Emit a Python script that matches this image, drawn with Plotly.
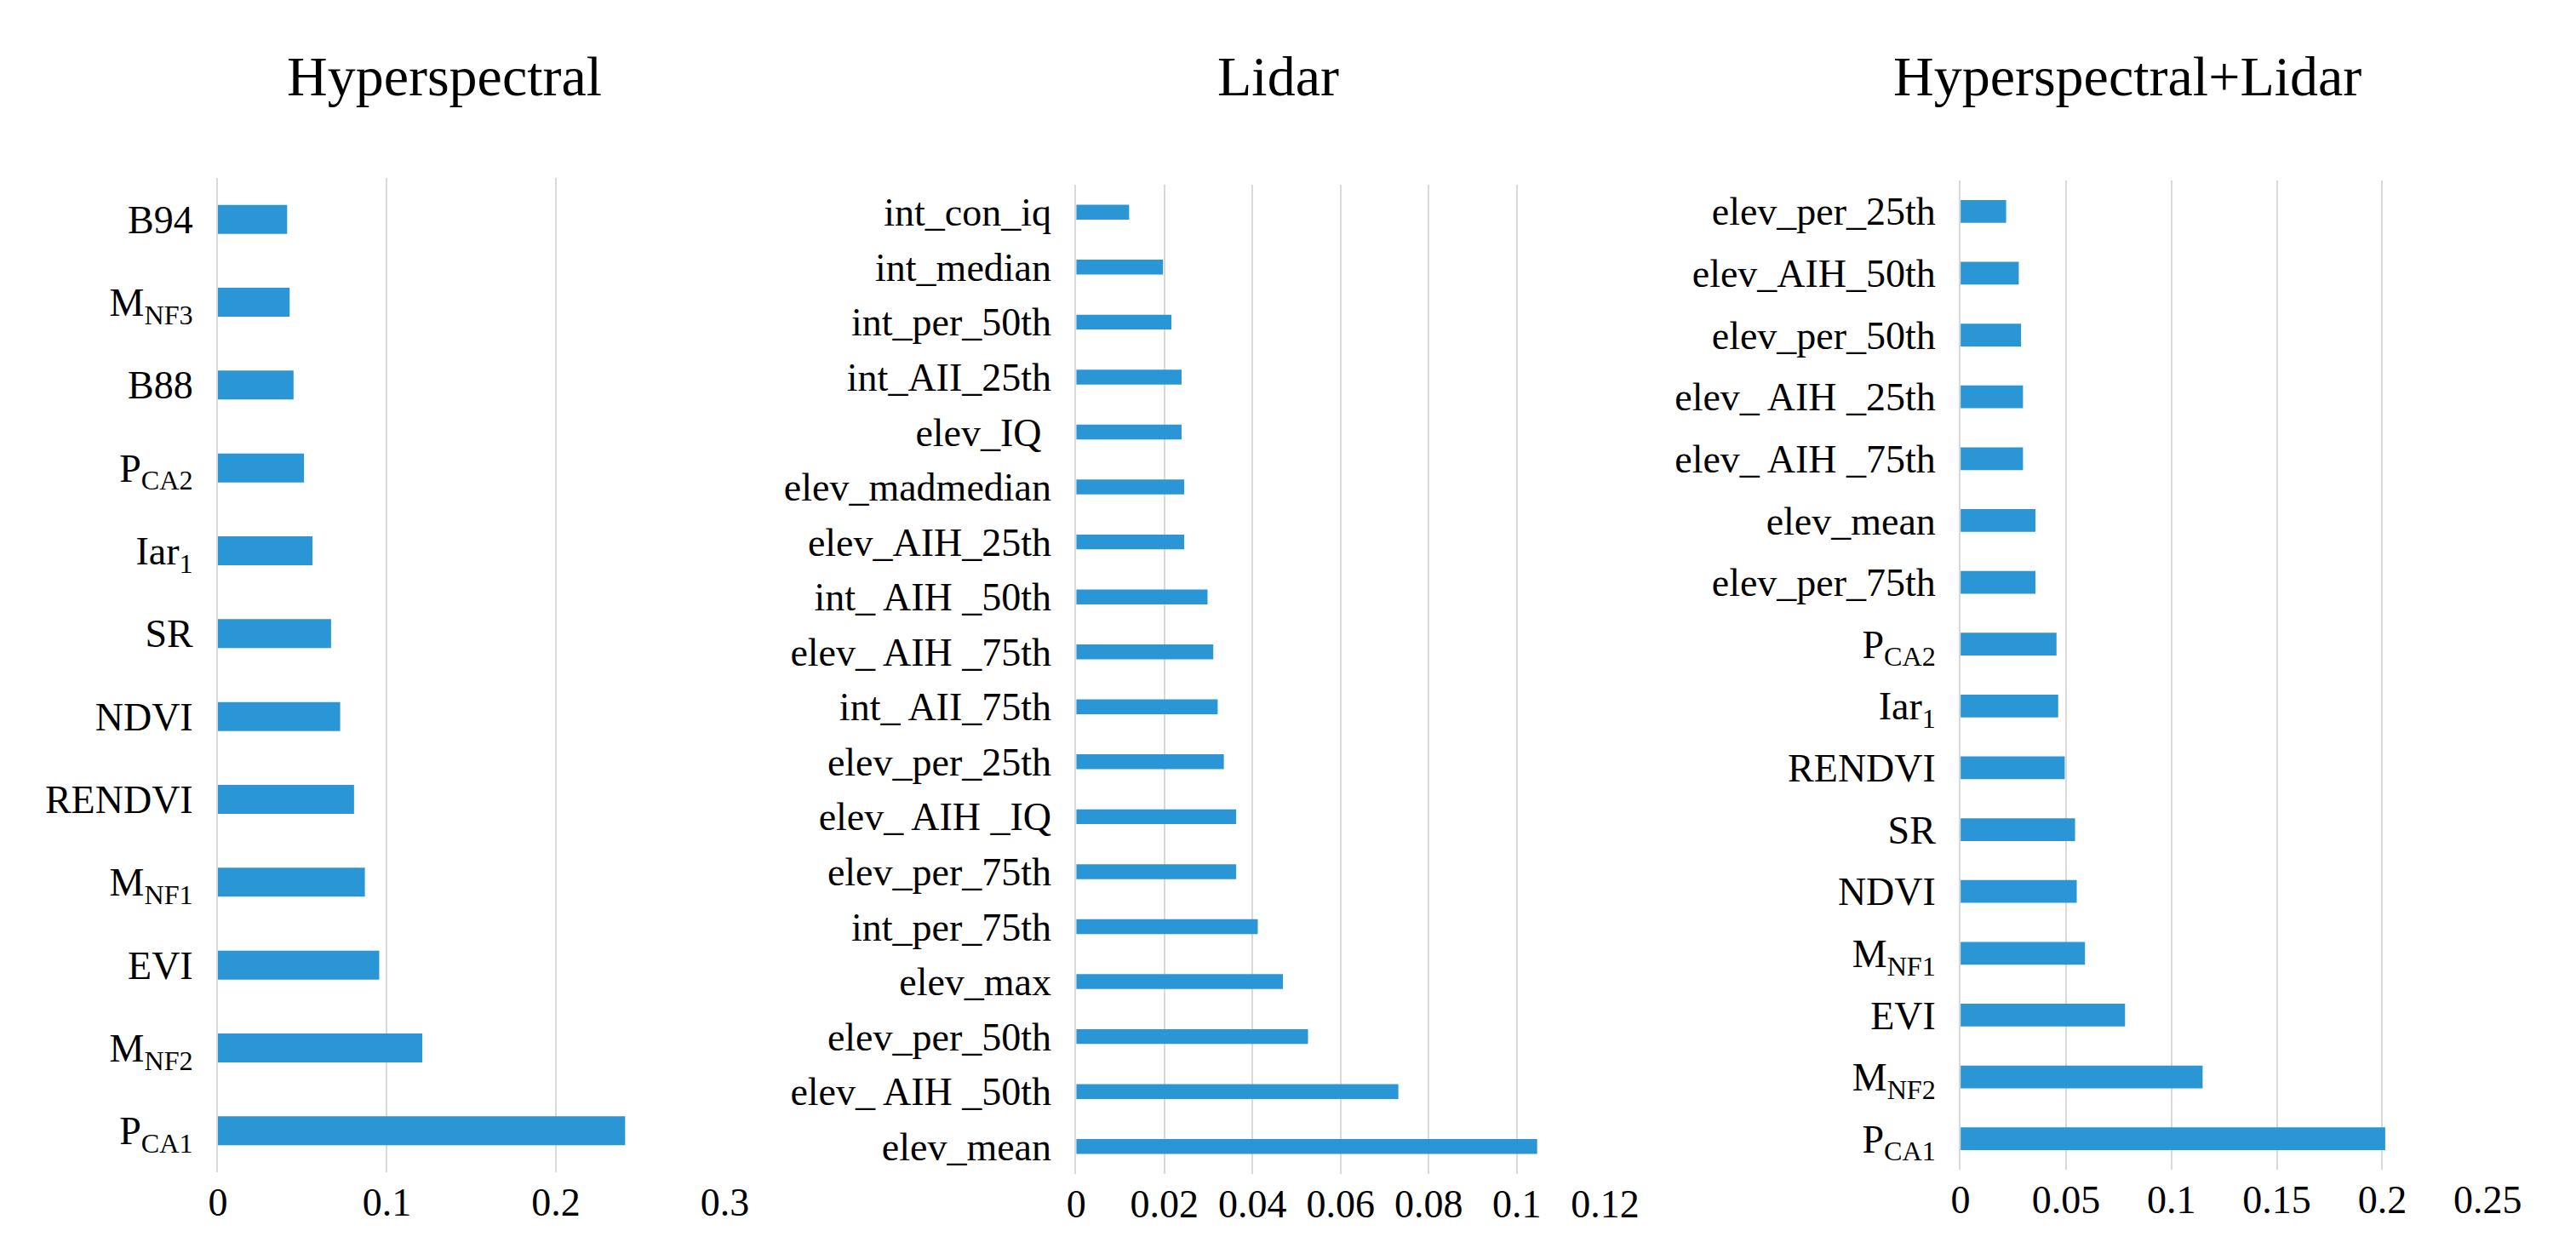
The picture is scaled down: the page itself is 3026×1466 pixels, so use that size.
import plotly.graph_objects as go

# ---------------- data (bottom -> top) ----------------
hyper_labels = ["P<sub>CA1</sub>", "M<sub>NF2</sub>", "EVI", "M<sub>NF1</sub>", "RENDVI",
                "NDVI", "SR", "Iar<sub>1</sub>", "P<sub>CA2</sub>", "B88",
                "M<sub>NF3</sub>", "B94"]
hyper_values = [0.241, 0.121, 0.0955, 0.087, 0.0806,
                0.0724, 0.067, 0.056, 0.051, 0.0448,
                0.0425, 0.041]

lidar_labels = ["elev_mean", "elev_ AIH _50th", "elev_per_50th", "elev_max", "int_per_75th",
                "elev_per_75th", "elev_ AIH _IQ", "elev_per_25th", "int_ AII_75th",
                "elev_ AIH _75th", "int_ AIH _50th", "elev_AIH_25th", "elev_madmedian",
                "elev_IQ ", "int_AII_25th", "int_per_50th", "int_median", "int_con_iq"]
lidar_values = [0.1046, 0.0731, 0.0526, 0.0469, 0.0412,
                0.0363, 0.0363, 0.0335, 0.0321,
                0.0311, 0.0298, 0.0245, 0.0245,
                0.0239, 0.0239, 0.0216, 0.0197, 0.012]

both_labels = ["P<sub>CA1</sub>", "M<sub>NF2</sub>", "EVI", "M<sub>NF1</sub>", "NDVI",
               "SR", "RENDVI", "Iar<sub>1</sub>", "P<sub>CA2</sub>", "elev_per_75th",
               "elev_mean", "elev_ AIH _75th", "elev_ AIH _25th", "elev_per_50th",
               "elev_AIH_50th", "elev_per_25th"]
both_values = [0.2014, 0.1148, 0.078, 0.059, 0.0551,
               0.0543, 0.0494, 0.0463, 0.0455, 0.0355,
               0.0355, 0.0296, 0.0296, 0.0287,
               0.0276, 0.0216]

titles = ["Hyperspectral", "Lidar", "Hyperspectral+Lidar"]
x_ticks = [[0, 0.1, 0.2, 0.3],
           [0, 0.02, 0.04, 0.06, 0.08, 0.1, 0.12],
           [0, 0.05, 0.1, 0.15, 0.2, 0.25]]
x_ticktext = [["0", "0.1", "0.2", "0.3"],
              ["0", "0.02", "0.04", "0.06", "0.08", "0.1", "0.12"],
              ["0", "0.05", "0.1", "0.15", "0.2", "0.25"]]

# ---------------- layout helpers ----------------
W, H = 3026, 1466
BAR = "#2A96D6"
GRID = "#D9D9D9"
FONT = "Liberation Serif"

panels = [
    dict(labels=hyper_labels, values=hyper_values, x0=240, x1=846, top=201, bottom=1369, w=0.35),
    dict(labels=lidar_labels, values=lidar_values, x0=1266, x1=1898, top=209, bottom=1371, w=0.27),
    dict(labels=both_labels, values=both_values, x0=2323, x1=2953, top=204, bottom=1366, w=0.37),
]
title_x = [511, 1507, 2522]

fig = go.Figure()
layout = dict(width=W, height=H, margin=dict(l=0, r=0, t=0, b=0),
              paper_bgcolor="white", plot_bgcolor="white", showlegend=False,
              font=dict(family=FONT, size=46, color="black"))

for i, p in enumerate(panels):
    n = i + 1
    xa = "x" if n == 1 else f"x{n}"
    ya = "y" if n == 1 else f"y{n}"
    fig.add_trace(go.Bar(x=p["values"], y=p["labels"], orientation="h",
                         marker=dict(color=BAR, line=dict(width=0)),
                         width=p["w"], xaxis=xa, yaxis=ya, hoverinfo="x+y"))
    ticks = x_ticks[i]
    layout["xaxis" if n == 1 else f"xaxis{n}"] = dict(
        domain=[p["x0"] / W, p["x1"] / W], anchor=ya,
        range=[ticks[0], ticks[-1]], tickvals=ticks, ticktext=x_ticktext[i],
        showgrid=True, gridcolor=GRID, gridwidth=2, zeroline=False,
        showline=False, ticks="", ticklabelstandoff=4,
        tickfont=dict(family=FONT, size=46, color="black"), fixedrange=True)
    layout["yaxis" if n == 1 else f"yaxis{n}"] = dict(
        domain=[1 - p["bottom"] / H, 1 - p["top"] / H], anchor=xa,
        type="category", categoryorder="array", categoryarray=p["labels"],
        range=[-0.5, len(p["labels"]) - 0.5],
        showgrid=False, zeroline=False, showline=True, linecolor=GRID, linewidth=2,
        ticks="", ticklabelstandoff=18,
        tickfont=dict(family=FONT, size=46, color="black"), fixedrange=True)

annotations = []
for t, tx in zip(titles, title_x):
    annotations.append(dict(text=t, x=tx / W, y=1 - 82 / H, xref="paper", yref="paper",
                            xanchor="center", yanchor="middle", showarrow=False,
                            font=dict(family=FONT, size=66, color="black")))
layout["annotations"] = annotations

fig.update_layout(**layout)
fig.write_html("out.html")
